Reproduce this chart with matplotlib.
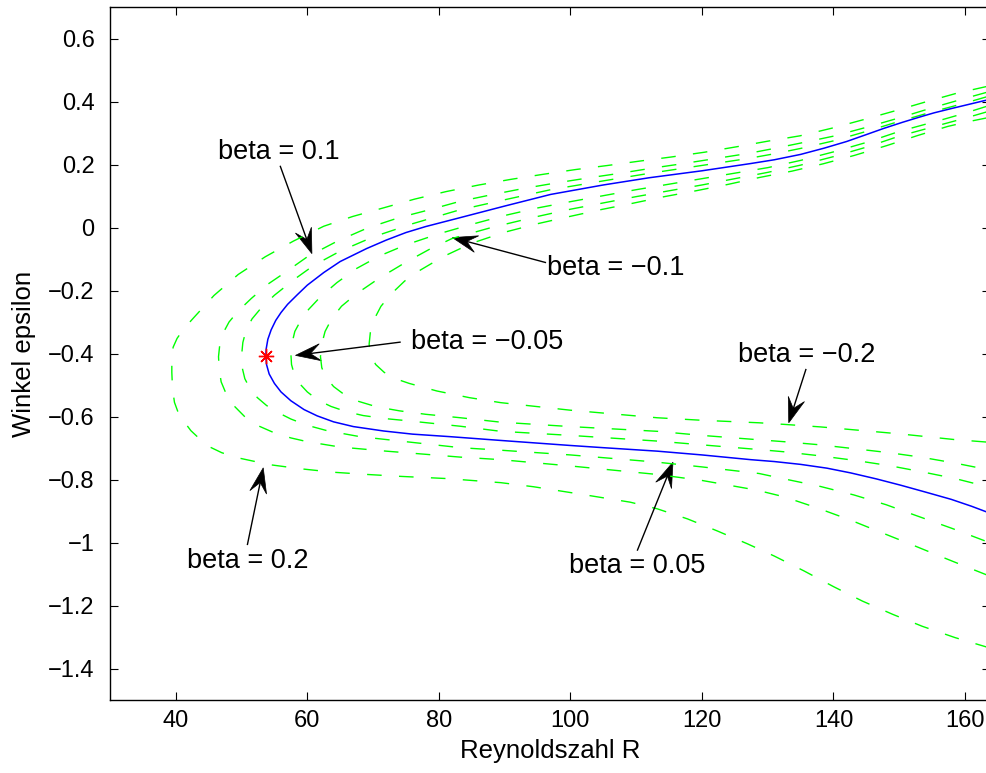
import numpy as np
import matplotlib
matplotlib.use("Agg")
import matplotlib.pyplot as plt
from matplotlib.patches import Polygon
from matplotlib.transforms import IdentityTransform
from matplotlib.ticker import FuncFormatter

plt.rcParams["font.family"] = ["Liberation Sans", "DejaVu Sans"]

# beta = 0 (blue, solid)
r_b0 = [163.8, 161, 158, 155.3, 153, 150.5, 147.7, 145, 142, 138.6, 135, 131, 127.4, 120, 112, 105, 97,
        90, 83, 78, 75, 72, 69, 65, 62.5, 60, 58.5, 57, 56, 55.2, 54.5, 54, 53.75, 53.7, 53.8, 54.2, 55,
        56, 57.5, 59.5, 61.5, 64, 67, 71.6, 76, 81.7, 89.4, 100, 105, 113.2, 120, 127.4, 131, 135, 139,
        142.6, 146.5, 150.2, 154, 157.9, 161, 163.8]
e_b0 = [0.407, 0.393, 0.378, 0.364, 0.35, 0.334, 0.315, 0.295, 0.273, 0.252, 0.232, 0.215, 0.203, 0.18,
        0.158, 0.135, 0.105, 0.068, 0.03, 0.003, -0.016, -0.04, -0.067, -0.108, -0.143, -0.183, -0.213,
        -0.244, -0.27, -0.295, -0.325, -0.355, -0.385, -0.408, -0.435, -0.465, -0.495, -0.522, -0.55,
        -0.578, -0.598, -0.617, -0.632, -0.646, -0.656, -0.664, -0.676, -0.692, -0.699, -0.71, -0.722,
        -0.737, -0.743, -0.752, -0.764, -0.779, -0.798, -0.818, -0.84, -0.863, -0.885, -0.907]

# beta = 0.2
r_p20 = [163.8, 158.7, 153.9, 149.3, 144.5, 139.7, 134.9, 130, 125.2, 120.4, 115.4, 110.6, 105.7, 100.8,
         95.9, 91, 86.1, 81.1, 76.3, 71.7, 66.9, 62.5, 57.9, 53.6, 49.5, 45.8, 42.7, 41.2, 40.2, 39.6,
         39.4, 39.4, 39.5, 39.8, 40.5, 42.3, 44.7, 47, 49.4, 54.3, 59, 64, 69.1, 74.1, 81.2, 89.4, 94.4,
         102, 109.1, 113.2, 117.8, 122.3, 126.9, 131, 135.5, 140, 144.4, 149, 153.5, 158.5, 163.8]
e_p20 = [0.45, 0.426, 0.398, 0.37, 0.342, 0.315, 0.291, 0.274, 0.256, 0.239, 0.224, 0.211, 0.197, 0.184,
         0.169, 0.153, 0.135, 0.114, 0.09, 0.063, 0.035, 0.004, -0.043, -0.093, -0.149, -0.216, -0.287,
         -0.322, -0.352, -0.38, -0.41, -0.46, -0.51, -0.555, -0.595, -0.645, -0.692, -0.715, -0.731,
         -0.753, -0.766, -0.777, -0.784, -0.79, -0.797, -0.81, -0.823, -0.848, -0.872, -0.893, -0.925,
         -0.963, -1.004, -1.043, -1.09, -1.14, -1.186, -1.228, -1.266, -1.302, -1.335]

# beta = 0.1
r_p10 = [163.8, 160, 155, 150, 145, 140, 135, 131, 127, 122.1, 117.2, 112.3, 107.5, 102.6, 97.7, 92.9,
         88, 83.2, 78.7, 73.9, 69.1, 64.5, 60, 56.4, 54, 51.5, 49.5, 48.1, 47.2, 46.7, 46.5, 46.6, 46.9,
         47.6, 48.8, 50.6, 52.6, 55, 57.5, 60, 65, 72, 78, 83.3, 89.4, 100, 113.2, 120, 128.4, 132.5,
         137.5, 142.6, 147, 151.8, 156.5, 160.9, 163.8]
e_p10 = [0.432, 0.41, 0.38, 0.348, 0.318, 0.29, 0.268, 0.251, 0.235, 0.219, 0.203, 0.188, 0.172, 0.157,
         0.141, 0.124, 0.104, 0.083, 0.057, 0.031, -0.002, -0.044, -0.093, -0.146, -0.18, -0.225, -0.265,
         -0.3, -0.335, -0.37, -0.41, -0.45, -0.49, -0.525, -0.565, -0.603, -0.63, -0.652, -0.668, -0.68,
         -0.697, -0.71, -0.72, -0.729, -0.737, -0.757, -0.784, -0.803, -0.834, -0.855, -0.89, -0.929,
         -0.966, -1.006, -1.046, -1.083, -1.107]

# beta = 0.05
r_p05 = [163.8, 160, 155, 150, 145, 140, 135, 131, 127, 120, 112, 105, 97, 90, 83, 76, 70, 65, 61, 58,
         55, 53, 51.6, 50.7, 50.2, 50, 50.1, 50.5, 51.3, 52.4, 53.8, 55.5, 57.5, 60, 63, 68, 75, 83.3,
         89.4, 100, 113.2, 120, 128.7, 132.5, 138, 143.1, 148, 152.5, 158, 163.8]
e_p05 = [0.418, 0.395, 0.367, 0.337, 0.305, 0.275, 0.251, 0.234, 0.219, 0.197, 0.172, 0.148, 0.12, 0.088,
         0.055, 0.012, -0.03, -0.075, -0.12, -0.165, -0.215, -0.255, -0.29, -0.325, -0.365, -0.408,
         -0.445, -0.48, -0.512, -0.54, -0.565, -0.587, -0.608, -0.628, -0.645, -0.664, -0.68, -0.699,
         -0.707, -0.722, -0.745, -0.76, -0.781, -0.798, -0.822, -0.849, -0.88, -0.914, -0.955, -1.001]

# beta = -0.05
r_m05 = [163.8, 160, 157, 153.5, 150, 145, 140, 135, 130, 120, 110, 100, 95, 90, 85, 80, 75, 71, 67.5,
         64.5, 62, 60.2, 59, 58.1, 57.7, 57.5, 57.6, 58, 58.8, 60, 61.6, 63.6, 66, 68.5, 72, 75, 83.3,
         89.4, 100, 113.2, 120, 128.7, 132.5, 138, 143.5, 148.5, 153.3, 158.5, 163.8]
e_m05 = [0.388, 0.363, 0.345, 0.325, 0.305, 0.27, 0.24, 0.213, 0.19, 0.155, 0.12, 0.082, 0.062, 0.038,
         0.01, -0.02, -0.055, -0.09, -0.13, -0.175, -0.22, -0.26, -0.295, -0.33, -0.365, -0.4, -0.435,
         -0.465, -0.495, -0.522, -0.548, -0.568, -0.585, -0.597, -0.607, -0.613, -0.631, -0.647, -0.66,
         -0.678, -0.69, -0.705, -0.712, -0.725, -0.74, -0.756, -0.775, -0.797, -0.825]

# beta = -0.1
r_m10 = [163.8, 160, 157, 153.5, 150, 145, 140, 135, 130, 120, 110, 100, 95, 88, 82, 78.5, 75, 71,
         67.5, 65.2, 63.7, 62.7, 62.2, 62, 62.2, 62.8, 64, 65.6, 67.8, 70.5, 74, 78, 83.3, 89.4, 100,
         113.2, 120, 128.7, 132.5, 138, 143.5, 148.5, 153.3, 158.5, 163.8]
e_m10 = [0.37, 0.347, 0.33, 0.31, 0.29, 0.255, 0.225, 0.198, 0.175, 0.135, 0.098, 0.058, 0.035, 0.0,
         -0.035, -0.07, -0.11, -0.16, -0.21, -0.25, -0.29, -0.33, -0.37, -0.41, -0.445, -0.475, -0.505,
         -0.53, -0.552, -0.569, -0.582, -0.593, -0.604, -0.618, -0.632, -0.647, -0.66, -0.674, -0.68,
         -0.69, -0.703, -0.715, -0.729, -0.748, -0.77]

# beta = -0.2
r_m20 = [163.8, 160.5, 157.4, 152.8, 148.1, 143.2, 138.4, 133.7, 128.8, 124, 119.2, 114.3, 109.5,
         104.7, 99.9, 95, 90, 85, 80.7, 77.2, 74.8, 72.8, 71.2, 70.2, 69.6, 69.4, 69.6, 70.4, 71.7, 73.4,
         75.5, 79.7, 84.6, 89.4, 100, 113.2, 120, 128.7, 132.5, 138, 143.5, 150, 158.3, 163.8]
e_m20 = [0.35, 0.336, 0.321, 0.292, 0.26, 0.229, 0.202, 0.179, 0.159, 0.137, 0.117, 0.098, 0.077, 0.057,
         0.035, 0.012, -0.015, -0.05, -0.092, -0.135, -0.17, -0.21, -0.25, -0.29, -0.33, -0.37, -0.405,
         -0.435, -0.46, -0.48, -0.495, -0.519, -0.54, -0.556, -0.58, -0.604, -0.612, -0.62, -0.625,
         -0.633, -0.643, -0.655, -0.673, -0.682]

# critical point (red star)
r_crit = [53.7]
e_crit = [-0.408]

# annotations: label, text position, arrow tail, arrow tip
ann_labels = ["beta = 0.1", "beta = \u22120.1", "beta = \u22120.05", "beta = \u22120.2",
              "beta = 0.05", "beta = 0.2"]
ann_text = [(55.6, 0.241), (106.9, -0.127), (87.3, -0.365), (135.9, -0.405),
            (110.2, -1.076), (50.9, -1.059)]
ann_tail = [(55.9, 0.194), (96.2, -0.111), (74.1, -0.364), (135.8, -0.451),
            (110.2, -1.024), (50.9, -1.006)]
ann_tip = [(60.7, -0.083), (82.05, -0.032), (58.2, -0.406), (133.2, -0.62),
           (115.6, -0.745), (53.3, -0.763)]

x_ticks = [40, 60, 80, 100, 120, 140, 160]
y_ticks = [0.6, 0.4, 0.2, 0, -0.2, -0.4, -0.6, -0.8, -1, -1.2, -1.4]


def _fmt(v, pos):
    return ("%g" % v).replace("-", "\u2212")


def _arrow(ax, tail, tip, head_len=25.0, head_w=17.0, notch=0.6):
    p0 = ax.transData.transform(tail)
    p1 = ax.transData.transform(tip)
    u = (p1 - p0) / np.hypot(*(p1 - p0))
    n = np.array([-u[1], u[0]])
    back = p1 - u * head_len
    mid = p1 - u * head_len * notch
    ax.add_line(plt.Line2D([p0[0], mid[0]], [p0[1], mid[1]], transform=IdentityTransform(),
                           color="black", lw=1.0))
    head = Polygon([p1, back + n * head_w / 2, mid, back - n * head_w / 2], closed=True,
                   transform=IdentityTransform(), facecolor="black", edgecolor="black", lw=0.5)
    ax.add_patch(head)


def main():
    fig = plt.figure(figsize=(9.87, 7.73), dpi=100)
    ax = fig.add_axes([110 / 987, 73 / 773, 880 / 987, 693 / 773])

    for r, e in [(r_p20, e_p20), (r_p10, e_p10), (r_p05, e_p05),
                 (r_m05, e_m05), (r_m10, e_m10), (r_m20, e_m20)]:
        ax.plot(r, e, color=(0, 1, 0), lw=1.0, dashes=(10.5, 12.5))
    ax.plot(r_b0, e_b0, color=(0, 0, 1), lw=1.1)
    ax.plot(r_crit, e_crit, linestyle="none", marker=(8, 2, 0), markersize=11,
            markeredgecolor="red", markeredgewidth=1.0)

    ax.set_xlim(30, 163.8)
    ax.set_ylim(-1.5, 0.7)
    ax.set_xticks(x_ticks)
    ax.set_yticks(y_ticks)
    ax.xaxis.set_major_formatter(FuncFormatter(_fmt))
    ax.yaxis.set_major_formatter(FuncFormatter(_fmt))
    ax.tick_params(direction="in", length=6, width=0.8, labelsize=17, top=True, right=True)
    ax.tick_params(axis="x", pad=7)
    ax.tick_params(axis="y", pad=11)
    for spine in ax.spines.values():
        spine.set_linewidth(1.0)

    ax.set_xlabel("Reynoldszahl R", fontsize=18.5, labelpad=5)
    ax.set_ylabel("Winkel epsilon", fontsize=18.5, labelpad=9)

    for label, txt, tail, tip in zip(ann_labels, ann_text, ann_tail, ann_tip):
        ax.text(txt[0], txt[1], label, fontsize=19.5, ha="center", va="center")
        _arrow(ax, tail, tip)

    fig.savefig("out.png", dpi=100)


if __name__ == "__main__":
    main()
